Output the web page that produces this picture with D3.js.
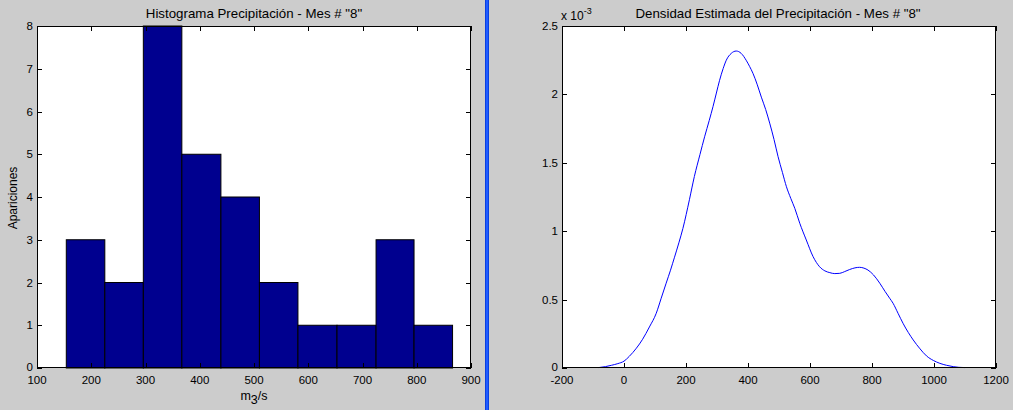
<!DOCTYPE html>
<html><head><meta charset="utf-8">
<script src="https://cdn.jsdelivr.net/npm/d3@7/dist/d3.min.js"></script>
<style>body{margin:0;background:#cccccc;}svg{display:block;}text{font-family:"Liberation Sans",Arial,sans-serif;fill:#000;}</style>
</head><body>
<svg id="c" width="1013" height="410"></svg>
<script>
// Histogram data
const binEdges = [154, 225, 296, 367, 439, 510, 581, 653, 725, 795, 866];
const counts = [3, 2, 8, 5, 4, 2, 1, 1, 3, 1];
const histXTicks = [100, 200, 300, 400, 500, 600, 700, 800, 900];
const histYTicks = [0, 1, 2, 3, 4, 5, 6, 7, 8];
// Density data (values x 10^-3)
const densX = [-82, -60, -40, -20, 0, 17, 40, 60, 82, 104, 120, 136, 150, 163, 177, 190, 211, 227, 245, 260, 275, 287, 298, 308, 320, 330, 346, 362, 378, 394, 405, 416, 430, 443, 457, 470, 484, 497, 511, 524, 538, 551, 567, 588, 610, 631, 648, 664, 680, 696, 712, 728, 745, 760, 774, 787, 805, 825, 842, 857, 868, 884, 900, 917, 933, 955, 976, 998, 1019, 1040, 1062, 1080, 1100];
const densY = [0.003, 0.01, 0.02, 0.032, 0.05, 0.085, 0.145, 0.21, 0.3, 0.40, 0.51, 0.62, 0.715, 0.81, 0.915, 1.02, 1.23, 1.40, 1.56, 1.69, 1.81, 1.91, 2.01, 2.10, 2.19, 2.25, 2.30, 2.317, 2.30, 2.25, 2.205, 2.154, 2.07, 1.98, 1.89, 1.79, 1.67, 1.545, 1.43, 1.325, 1.24, 1.167, 1.058, 0.936, 0.814, 0.74, 0.71, 0.697, 0.69, 0.692, 0.705, 0.72, 0.732, 0.736, 0.73, 0.716, 0.68, 0.62, 0.56, 0.51, 0.473, 0.40, 0.327, 0.26, 0.205, 0.14, 0.088, 0.055, 0.034, 0.02, 0.01, 0.005, 0.003];
const densXTicks = [-200, 0, 200, 400, 600, 800, 1000, 1200];
const densYTicks = [0, 0.5, 1, 1.5, 2, 2.5];

const svg = d3.select("#c");
svg.append("rect").attr("width",1013).attr("height",410).attr("fill","#cccccc");

function frame(g, x, y){
  const [x0,x1] = x.range(), [y0,y1] = y.range();
  g.append("rect").attr("x",x0).attr("y",y1).attr("width",x1-x0).attr("height",y0-y1).attr("fill","#fff");
}
function axesOverlay(g, x, y, xt, yt, yfmt){
  const [x0,x1] = x.range(), [y0,y1] = y.range();
  const tl = 5;
  g.append("rect").attr("x",x0+0.5).attr("y",y1+0.5).attr("width",x1-x0-1).attr("height",y0-y1-1)
    .attr("fill","none").attr("stroke","#000").attr("stroke-width",1).attr("shape-rendering","crispEdges");
  xt.forEach(v=>{
    const px = Math.round(x(v))+0.5;
    g.append("line").attr("x1",px).attr("x2",px).attr("y1",y0).attr("y2",y0-tl).attr("stroke","#000").attr("shape-rendering","crispEdges");
    g.append("line").attr("x1",px).attr("x2",px).attr("y1",y1).attr("y2",y1+tl).attr("stroke","#000").attr("shape-rendering","crispEdges");
    g.append("text").attr("x",x(v)).attr("y",y0+16).attr("text-anchor","middle").attr("font-size","11.5px").text(v);
  });
  yt.forEach(v=>{
    const py = Math.round(y(v))+0.5;
    g.append("line").attr("x1",x0).attr("x2",x0+tl).attr("y1",py).attr("y2",py).attr("stroke","#000").attr("shape-rendering","crispEdges");
    g.append("line").attr("x1",x1).attr("x2",x1-tl).attr("y1",py).attr("y2",py).attr("stroke","#000").attr("shape-rendering","crispEdges");
    g.append("text").attr("x",x0-4).attr("y",y(v)+(v===0?2.5:4)).attr("text-anchor","end").attr("font-size","11.5px").text(yfmt(v));
  });
}

// Left histogram
const xL = d3.scaleLinear().domain([100,900]).range([37,471]);
const yL = d3.scaleLinear().domain([0,8]).range([368,26]);
const gL = svg.append("g");
frame(gL, xL, yL);
gL.selectAll("rect.bar").data(counts).enter().append("rect").attr("class","bar")
  .attr("x",(d,i)=>xL(binEdges[i])).attr("width",(d,i)=>xL(binEdges[i+1])-xL(binEdges[i]))
  .attr("y",d=>yL(d)).attr("height",d=>yL(0)-yL(d))
  .attr("fill","#00008f").attr("stroke","#000").attr("stroke-width",1);
axesOverlay(gL, xL, yL, histXTicks, histYTicks, d=>d);
gL.append("text").attr("x",254).attr("y",18).attr("text-anchor","middle").attr("font-size","13.3px").text('Histograma Precipitación - Mes # "8"');
gL.append("text").attr("transform","translate(17,198) rotate(-90)").attr("text-anchor","middle").attr("font-size","12px").text("Apariciones");
const xlab = gL.append("text").attr("x",254).attr("y",400).attr("text-anchor","middle").attr("font-size","12.5px");
xlab.append("tspan").text("m");
xlab.append("tspan").attr("dy",4).text("3");
xlab.append("tspan").attr("dy",-4).text("/s");

// Divider
svg.append("rect").attr("x",485).attr("y",0).attr("width",4).attr("height",410).attr("fill","#0a3fe0");
svg.append("rect").attr("x",486).attr("y",0).attr("width",2).attr("height",410).attr("fill","#1f5cff");

// Right density
const xR = d3.scaleLinear().domain([-200,1200]).range([562,996]);
const yR = d3.scaleLinear().domain([0,2.5]).range([368,26]);
const gR = svg.append("g");
frame(gR, xR, yR);
const line = d3.line().x((d,i)=>xR(densX[i])).y(d=>yR(d)).curve(d3.curveMonotoneX);
gR.append("path").attr("d",line(densY)).attr("fill","none").attr("stroke","#0000ff").attr("stroke-width",1);
axesOverlay(gR, xR, yR, densXTicks, densYTicks, d=>d);
gR.append("text").attr("x",778).attr("y",18).attr("text-anchor","middle").attr("font-size","13.3px").text('Densidad Estimada del Precipitación - Mes # "8"');
const ex = gR.append("text").attr("x",561).attr("y",20).attr("font-size","12px");
ex.append("tspan").text("x 10");
ex.append("tspan").attr("dy",-6).attr("font-size","9px").text("-3");
</script>
</body></html>
